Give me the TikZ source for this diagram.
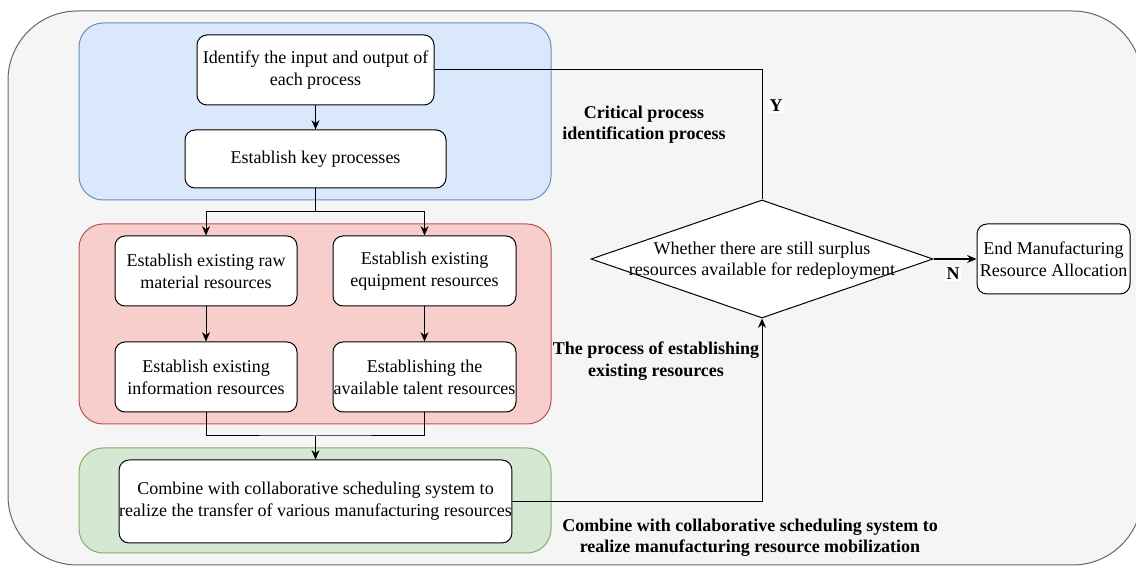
\documentclass[tikz,border=0pt]{standalone}
\usepackage{fontspec}
\setmainfont{Liberation Serif}
\usepackage{xcolor}
\usetikzlibrary{shapes.geometric,arrows.meta}

\definecolor{outerfill}{HTML}{F5F5F5}
\definecolor{outerline}{HTML}{666666}
\definecolor{bluefill}{HTML}{DAE8FC}
\definecolor{blueline}{HTML}{6C8EBF}
\definecolor{redfill}{HTML}{F8CECC}
\definecolor{redline}{HTML}{B85450}
\definecolor{greenfill}{HTML}{D5E8D4}
\definecolor{greenline}{HTML}{82B366}

\begin{document}
\begin{tikzpicture}[x=0.75pt, y=-0.75pt, line width=0.75pt,
  box/.style={draw, fill=white, rounded corners=7.5pt, align=center, inner sep=0pt,
    font=\fontsize{13.5}{16.5}\selectfont},
  grp/.style={rounded corners=18pt},
  grplabel/.style={align=center, font=\fontsize{13.5}{16}\selectfont\bfseries},
  arr/.style={-{Stealth[length=7pt,width=6pt]}}]
\clip (0,0) rectangle (1136,566);
\useasboundingbox (0,0) rectangle (1136,566);
% Background and groups
\draw[fill=outerfill, draw=outerline, rounded corners=52pt] (8,11) rectangle (1142,565);
\draw[grp, fill=bluefill, draw=blueline] (79,23) rectangle (551,200);
\draw[grp, fill=redfill, draw=redline] (79,224) rectangle (551,424);
\draw[grp, fill=greenfill, draw=greenline] (79,448) rectangle (551,553);

\node[grplabel] (lblue) at (644,125) {Critical process\\identification process};
\node[grplabel] (lred) at (656,361) {The process of establishing\\existing resources};
\node[grplabel] (lgreen) at (750,538) {Combine with collaborative scheduling system to\\realize manufacturing resource mobilization};

% Steps
\node[box, minimum width=177.75pt, minimum height=52.5pt] (inout) at (315.5,70) {Identify the input and output of\\each process};
\node[box, minimum width=195.75pt, minimum height=43.5pt] (keyproc) at (315.5,159) {Establish key processes};
\node[box, minimum width=136.5pt, minimum height=52.5pt] (raw) at (206,271) {Establish existing raw\\material resources};
\node[box, minimum width=137.25pt, minimum height=52.5pt] (equip) at (424.5,271) {Establish existing\\equipment resources};
\node[box, minimum width=136.5pt, minimum height=52.5pt] (info) at (206,377) {Establish existing\\information resources};
\node[box, minimum width=137.25pt, minimum height=52.5pt] (talent) at (424.5,377) {Establishing the\\available talent resources};
\node[box, minimum width=291.75pt, minimum height=62.25pt] (combine) at (315.5,501.5) {Combine with collaborative scheduling system to\\realize the transfer of various manufacturing resources};
\node[draw, fill=white, diamond, inner sep=0pt, minimum width=256.5pt, minimum height=88.5pt] (surplus) at (762,259) {};
\node[align=center, font=\fontsize{13.5}{16}\selectfont] (surplustext) at (762,261) {Whether there are still surplus\\resources available for redeployment};
\node[box, minimum width=114.75pt, minimum height=52.5pt] (finish) at (1053.5,259) {End Manufacturing\\Resource Allocation};

% Connectors
\coordinate (split) at (315.5,212);
\coordinate (merge) at (315.5,436);
\draw[arr] (inout) -- (keyproc);
\draw (keyproc.south) -- (split);
\draw[arr] (split) -| (raw);
\draw[arr] (split) -| (equip);
\draw[arr] (raw) -- (info);
\draw[arr] (equip) -- (talent);
\draw (info.south) |- (merge) -| (talent.south);
\draw[arr] (merge) -- (combine);
\draw[arr] (combine.east) -| (surplus.south);
\draw (inout.east) -| (surplus.north);
\draw[arr, line width=1.3pt] (surplus.east) -- (finish.west);

\node[fill=white, inner sep=1pt, font=\fontsize{13.5}{14}\selectfont\bfseries] (yes) at (776,106) {Y};
\node[fill=white, inner sep=1pt, font=\fontsize{13.5}{14}\selectfont\bfseries] (no) at (953,274) {N};
\end{tikzpicture}
\end{document}
